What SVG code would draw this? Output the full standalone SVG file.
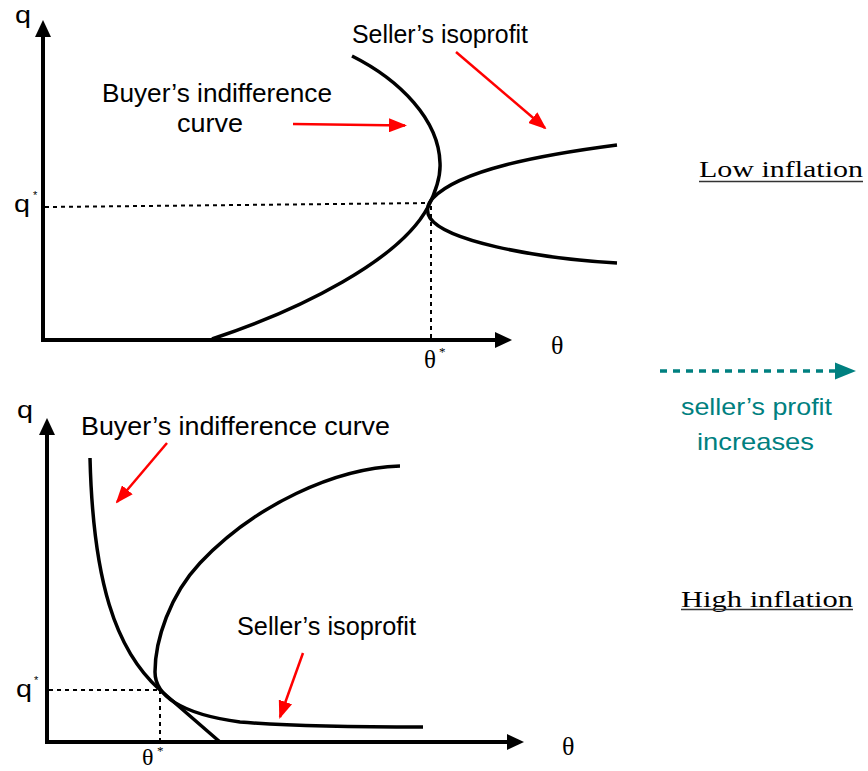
<svg xmlns="http://www.w3.org/2000/svg" width="868" height="771" viewBox="0 0 868 771">
<defs>
<style>
.ax{stroke:#000;stroke-width:4;fill:none}
.axh{fill:#000}
.crv{stroke:#000;stroke-width:3.5;fill:none;stroke-linecap:butt}
.dot{stroke:#000;stroke-width:2;stroke-dasharray:4 4;fill:none}
.red{stroke:#f00;stroke-width:2.5;fill:none}
.lbl{font-family:"Liberation Sans",Arial,sans-serif;fill:#000}
.ser{font-family:"Liberation Serif","Times New Roman",serif;fill:#000}
.teal{font-family:"Liberation Sans",Arial,sans-serif;fill:#008080}
</style>
<marker id="ra" markerUnits="userSpaceOnUse" markerWidth="18" markerHeight="14" refX="16" refY="7" orient="auto">
<path d="M0,0 L18,7 L0,14 z" fill="#f00"/>
</marker>
</defs>
<rect width="868" height="771" fill="#fff"/>

<g id="top-axes">
<line class="ax" x1="43" y1="340" x2="43" y2="34"/>
<polygon class="axh" points="43,20 35,37 51,37"/>
<line class="ax" x1="41" y1="340" x2="498" y2="340"/>
<polygon class="axh" points="512,340 495,332 495,348"/>
<text class="lbl" x="15" y="23" font-size="24" textLength="16" lengthAdjust="spacingAndGlyphs">q</text>
<text class="lbl" x="14" y="212" font-size="24" textLength="16" lengthAdjust="spacingAndGlyphs">q</text>
<text class="lbl" x="33" y="199" font-size="11">*</text>
<text class="ser" x="551" y="354" font-size="26">θ</text>
<text class="ser" x="424" y="368" font-size="25">θ</text>
<text class="ser" x="439" y="356" font-size="13">*</text>
</g>

<g id="top-guides">
<line class="dot" x1="45" y1="207" x2="430" y2="203"/>
<line class="dot" x1="431" y1="206" x2="431" y2="338"/>
</g>

<g id="top-buyer-curve">
<path class="crv" d="M212,339 C300,310 400,260 428,207 C433,197 441,180 440,163 C439,120 400,80 352,56"/>
</g>

<g id="top-seller-isoprofit">
<path class="crv" d="M617,145 C540,155 460,170 433,198 C427,204 426,212 430,218 C445,240 530,258 617,263"/>
</g>

<g id="top-labels">
<text class="lbl" x="102" y="102" font-size="25" textLength="230" lengthAdjust="spacingAndGlyphs">Buyer’s indifference</text>
<text class="lbl" x="177" y="132" font-size="25" textLength="66" lengthAdjust="spacingAndGlyphs">curve</text>
<text class="lbl" x="352" y="43" font-size="25" textLength="176" lengthAdjust="spacingAndGlyphs">Seller’s isoprofit</text>
</g>

<g id="inflation-labels">
<text class="ser" x="699" y="177" font-size="24" textLength="164" lengthAdjust="spacingAndGlyphs">Low inflation</text>
<line x1="699" y1="181.5" x2="863" y2="181.5" stroke="#333" stroke-width="1.5"/>
<text class="ser" x="681" y="607" font-size="24" textLength="172" lengthAdjust="spacingAndGlyphs">High inflation</text>
<line x1="681" y1="609.5" x2="853" y2="609.5" stroke="#333" stroke-width="1.5"/>
</g>

<g id="profit-arrow">
<line x1="660" y1="371" x2="836" y2="371" stroke="#008080" stroke-width="3.5" stroke-dasharray="7 6"/>
<polygon points="856,371 835,362.5 835,379.5" fill="#008080"/>
<text class="teal" x="681" y="415" font-size="24" textLength="151" lengthAdjust="spacingAndGlyphs">seller’s profit</text>
<text class="teal" x="697" y="450" font-size="24" textLength="117" lengthAdjust="spacingAndGlyphs">increases</text>
</g>

<g id="bottom-axes">
<line class="ax" x1="47" y1="742" x2="47" y2="432"/>
<polygon class="axh" points="47,418 39,435 55,435"/>
<line class="ax" x1="45" y1="742" x2="510" y2="742"/>
<polygon class="axh" points="524,742 507,734 507,750"/>
<text class="lbl" x="17" y="418" font-size="24" textLength="16" lengthAdjust="spacingAndGlyphs">q</text>
<text class="lbl" x="16" y="697" font-size="24" textLength="16" lengthAdjust="spacingAndGlyphs">q</text>
<text class="lbl" x="34" y="684" font-size="11">*</text>
<text class="ser" x="562" y="755" font-size="26">θ</text>
<text class="ser" x="142" y="765" font-size="24">θ</text>
<text class="ser" x="157" y="755" font-size="13">*</text>
</g>

<g id="bottom-guides">
<line class="dot" x1="49" y1="690" x2="158" y2="690"/>
<line class="dot" x1="160" y1="690" x2="160" y2="740"/>
</g>

<g id="bottom-buyer-curve">
<path class="crv" d="M90,458 C93,580 115,650 160,690 L220,742"/>
</g>

<g id="bottom-seller-isoprofit">
<path class="crv" d="M400,466 C335,468 255,505 200,563 C170,595 155,640 155,672 C155,695 180,714 240,722 C300,727 380,727 423,727"/>
</g>

<g id="bottom-labels">
<text class="lbl" x="81" y="435" font-size="25" textLength="309" lengthAdjust="spacingAndGlyphs">Buyer’s indifference curve</text>
<text class="lbl" x="237" y="635" font-size="25" textLength="179" lengthAdjust="spacingAndGlyphs">Seller’s isoprofit</text>
</g>

<g id="connectors">
<line class="red" x1="293" y1="124" x2="405" y2="125.5" marker-end="url(#ra)"/>
<line class="red" x1="456" y1="52" x2="545" y2="128" marker-end="url(#ra)"/>
<line class="red" x1="167" y1="443" x2="117" y2="502" marker-end="url(#ra)"/>
<line class="red" x1="303" y1="653" x2="280" y2="717" marker-end="url(#ra)"/>
</g>
</svg>
